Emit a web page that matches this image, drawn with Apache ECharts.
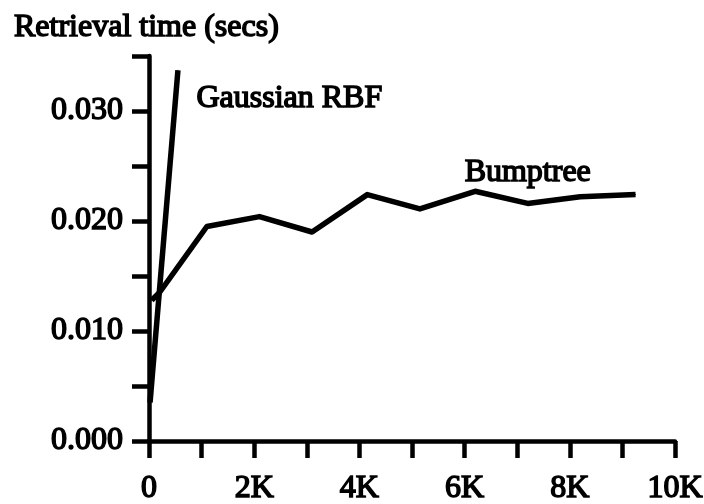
<!DOCTYPE html>
<html>
<head>
<meta charset="utf-8">
<script src="https://cdn.jsdelivr.net/npm/echarts@6/dist/echarts.min.js"></script>
<style>
html,body{margin:0;padding:0;background:#fff;}
#chart{width:704px;height:504px;}
</style>
</head>
<body>
<div id="chart"></div>
<script>
// Data
var gaussianX = [20, 550];
var gaussianY = [0.0035, 0.0337];
var bumptreeX = [50, 200, 1100, 2100, 3100, 4150, 5150, 6200, 7200, 8200, 9250];
var bumptreeY = [0.0128, 0.0135, 0.0195, 0.0204, 0.0190, 0.0224, 0.0211, 0.0227, 0.0216, 0.0222, 0.0224];
var xTickValues = [0, 2000, 4000, 6000, 8000, 10000];
var xTickLabels = ['0', '2K', '4K', '6K', '8K', '10K'];
var yTickValues = [0, 0.010, 0.020, 0.030];
var yTickLabels = ['0.000', '0.010', '0.020', '0.030'];
var titleText = 'Retrieval time (secs)';
var gaussianName = 'Gaussian RBF';
var bumptreeName = 'Bumptree';
var gaussianLabelIndex = 1;
var bumptreeLabelIndex = 8;

var FONT = '"Liberation Serif", "Times New Roman", serif';
var chart = echarts.init(document.getElementById('chart'), null, {renderer: 'canvas'});

function pairs(xs, ys, labelIdx, labelCfg) {
  return xs.map(function (x, i) {
    var item = {value: [x, ys[i]]};
    if (i === labelIdx) item.label = labelCfg;
    return item;
  });
}

var textBase = {fontFamily: FONT, fontSize: 32, fontWeight: 'normal', color: '#000',
  textBorderColor: '#000', textBorderWidth: 1.5};

chart.setOption({
  animation: false,
  backgroundColor: '#fff',
  title: {
    text: titleText,
    left: 9, top: 7,
    textStyle: Object.assign({}, textBase, {fontSize: 32})
  },
  grid: {left: 149, right: 29, top: 56, bottom: 63, containLabel: false, outerBoundsMode: 'none'},
  xAxis: {
    type: 'value', min: 0, max: 10000, interval: 1000,
    axisLine: {show: true, onZero: false, lineStyle: {color: '#000', width: 4.5}},
    axisTick: {show: true, length: 17, lineStyle: {color: '#000', width: 4.5}},
    splitLine: {show: false},
    axisLabel: Object.assign({
      margin: 32,
      formatter: function (v) {
        var k = xTickValues.indexOf(Math.round(v));
        return k >= 0 ? xTickLabels[k] : '';
      }
    }, textBase)
  },
  yAxis: {
    type: 'value', min: 0, max: 0.035, interval: 0.005,
    axisLine: {show: true, onZero: false, lineStyle: {color: '#000', width: 4.5}},
    axisTick: {show: true, length: 17, lineStyle: {color: '#000', width: 4.5}},
    splitLine: {show: false},
    axisLabel: Object.assign({
      margin: 26,
      formatter: function (v) {
        for (var i = 0; i < yTickValues.length; i++) {
          if (Math.abs(v - yTickValues[i]) < 1e-9) return yTickLabels[i];
        }
        return '';
      }
    }, textBase)
  },
  series: [
    {
      name: gaussianName, type: 'line',
      symbol: 'circle', symbolSize: 1, showSymbol: true,
      itemStyle: {color: '#000'},
      lineStyle: {color: '#000', width: 5.5},
      label: {show: false},
      data: pairs(gaussianX, gaussianY, gaussianLabelIndex, Object.assign({
        show: true, position: 'right', distance: 5, offset: [13, 28],
        formatter: gaussianName
      }, textBase))
    },
    {
      name: bumptreeName, type: 'line',
      symbol: 'circle', symbolSize: 1, showSymbol: true,
      itemStyle: {color: '#000'},
      lineStyle: {color: '#000', width: 5.5, join: 'round'},
      label: {show: false},
      data: pairs(bumptreeX, bumptreeY, bumptreeLabelIndex, Object.assign({
        show: true, position: 'top', distance: 5, offset: [0, -9],
        formatter: bumptreeName
      }, textBase))
    }
  ]
});
</script>
</body>
</html>
